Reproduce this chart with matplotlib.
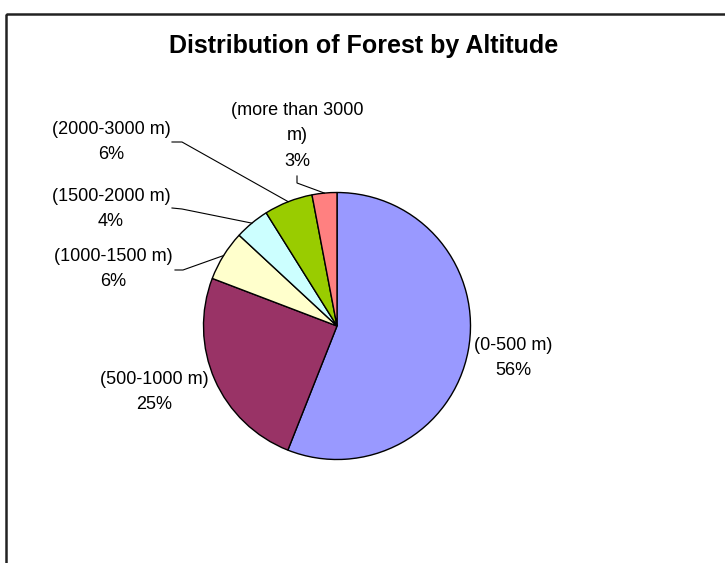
import matplotlib
matplotlib.use("Agg")
import numpy as np
import matplotlib.pyplot as plt
from matplotlib.patches import Rectangle

plt.rcParams['font.family'] = ['Liberation Sans', 'DejaVu Sans']

# data (percent of forest area)
categories = ["(0-500 m)", "(500-1000 m)", "(1000-1500 m)", "(1500-2000 m)",
              "(2000-3000 m)", "(more than 3000\nm)"]
shares = [56.0, 24.8, 6.1, 4.2, 5.9, 3.0]
colors = ["#9999FF", "#993366", "#FFFFCC", "#CCFFFF", "#99CC00", "#FF8080"]

# layout, in pixels of the 725x563 picture
W, H = 725, 563
cx, cy, R = 337, 326, 133.5


def px(x, y):
    # pixel position -> data units (pie radius = 1)
    return (x - cx) / R, (cy - y) / R


label_pos = [(513, 358), (154, 392), (113, 269), (111, 209), (111, 142), (297, 136)]
# label end of the leader line and its elbow (None = no leader)
leaders = [None, None,
           [(175, 270), (183, 270)],
           [(172, 208), (182, 209)],
           [(172, 142), (182, 142)],
           [(297, 176), (297, 183)]]

fig = plt.figure(figsize=(W / 100, H / 100), dpi=100)
ax = fig.add_axes([0, 0, 1, 1])

ax.pie(shares, colors=colors, startangle=90, counterclock=False, radius=1,
       wedgeprops=dict(edgecolor="black", linewidth=1.0))
ax.set_aspect("auto")
x0, y0 = px(0, H)
x1, y1 = px(W, 0)
ax.set_xlim(x0, x1)
ax.set_ylim(y0, y1)
ax.axis("off")

total = sum(shares)
cum = 0.0
for i, s in enumerate(shares):
    mid = 90 - 360 * (cum + s / 2) / total
    cum += s
    pct = round(100 * s / total)
    lx, ly = px(*label_pos[i])
    ax.text(lx, ly, f"{categories[i]}\n{pct}%", ha="center", va="center",
            multialignment="center", fontsize=13, linespacing=1.68, color="black")
    if leaders[i] is not None:
        ex, ey = np.cos(np.radians(mid)), np.sin(np.radians(mid))
        (sx, sy), (bx, by) = px(*leaders[i][0]), px(*leaders[i][1])
        ax.plot([sx, bx, ex], [sy, by, ey], color="black", linewidth=0.8)

tx, ty = px(364, 53)
ax.text(tx, ty, "Distribution of Forest by Altitude", ha="center", va="baseline",
        fontsize=18, fontweight="bold")

# chart border (runs off the right and bottom edges)
bx0, by0 = px(5.5, 14)
ax.add_patch(Rectangle((bx0, by0), 10, -10, fill=False, edgecolor="#222222",
                       linewidth=1.8, clip_on=False))

fig.savefig("out.png", dpi=100)
